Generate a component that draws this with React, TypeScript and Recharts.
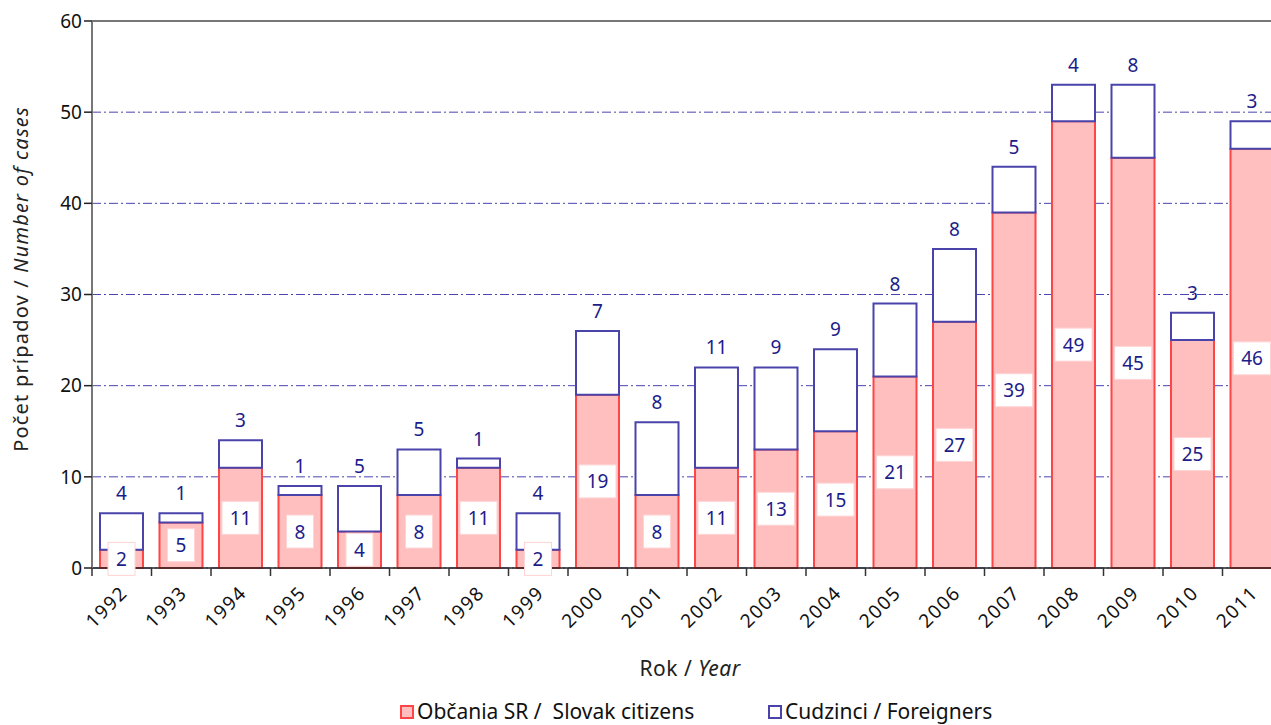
import React from 'react';
import { BarChart, Bar, XAxis, YAxis, CartesianGrid, ReferenceLine, LabelList, Label } from 'recharts';

const years = ['1992', '1993', '1994', '1995', '1996', '1997', '1998', '1999', '2000', '2001', '2002', '2003', '2004', '2005', '2006', '2007', '2008', '2009', '2010', '2011'];
const slovakCitizens = [2, 5, 11, 8, 4, 8, 11, 2, 19, 8, 11, 13, 15, 21, 27, 39, 49, 45, 25, 46];
const foreigners = [4, 1, 3, 1, 5, 5, 1, 4, 7, 8, 11, 9, 9, 8, 8, 5, 4, 8, 3, 3];
const yTicks = [0, 10, 20, 30, 40, 50, 60];

const data = years.map((year, i) => ({ year, citizens: slovakCitizens[i], foreign: foreigners[i] }));

const FONT = '"Noto Sans", "Open Sans", sans-serif';
const LABEL_BLUE = '#1c1c8a';
const PINK = '#ffbfbf';
const RED = '#ff4545';
const BLUE = '#4a44aa';
const BAND = 1190 / years.length;

// citizen value sits in a white box in the middle of the pink segment;
// drawn from the foreigners bar so the box lies on top of both segments
const CitizenLabel = (props: any) => {
    const { x, y, width, height, value, index } = props;
    const citizens = props.payload?.citizens ?? slovakCitizens[index];
    if (citizens == null || !value) return null;
    const k = height / value;
    const cx = x + width / 2;
    const cy = y + height + (citizens * k) / 2;
    const w = String(citizens).length > 1 ? 37 : 27;
    return (
        <g>
            <rect x={cx - w / 2} y={cy - 16.5} width={w} height={33} fill="#fff" stroke="#ffd4d4" strokeWidth={1} />
            <text x={cx} y={cy + 7} textAnchor="middle" fontSize={19} fill={LABEL_BLUE} fontFamily={FONT}>
                {citizens}
            </text>
        </g>
    );
};

const YearTick = (props: any) => {
    const { x, y, payload } = props;
    const lx = x + 7;
    const ly = y + 18;
    return (
        <g>
            <line x1={x - BAND / 2} y1={y - 8} x2={x - BAND / 2} y2={y} stroke="#333" strokeWidth={1.5} />
            <text x={lx} y={ly} textAnchor="end" fontSize={19} letterSpacing={1.5} fill="#111" fontFamily={FONT}
                transform={`rotate(-45, ${lx}, ${ly})`}>
                {payload.value}
            </text>
        </g>
    );
};

const App: React.FC = () => {
    return (
        <div style={{ position: 'absolute', left: 0, top: 0, width: 1271, height: 725, overflow: 'hidden', fontFamily: FONT }}>
            <BarChart width={1302} height={725} data={data} margin={{ top: 21, right: 20, left: 0, bottom: 0 }} barSize={43}>
                <CartesianGrid vertical={false} stroke="#4a44b0" strokeDasharray="9 3 2 3" strokeWidth={1} />
                <XAxis dataKey="year" height={157} interval={0} tickLine={false} axisLine={{ stroke: '#222', strokeWidth: 1.5 }} tick={<YearTick />}>
                    <Label content={() => (
                        <text x={690} y={676} textAnchor="middle" fontSize={21} letterSpacing={0.5} fill="#222" fontFamily={FONT}>
                            Rok / <tspan fontStyle="italic">Year</tspan>
                        </text>
                    )} />
                </XAxis>
                <YAxis width={92} domain={[0, 60]} ticks={yTicks} interval={0} tickSize={8}
                    tickLine={{ stroke: '#222', strokeWidth: 1.5 }} axisLine={{ stroke: '#777', strokeWidth: 2 }}
                    tick={{ fontSize: 19, fill: '#111', fontFamily: FONT }}>
                    <Label content={() => (
                        <text x={28} y={279} textAnchor="middle" fontSize={20} letterSpacing={1.2} fill="#222" fontFamily={FONT} transform="rotate(-90, 28, 279)">
                            Počet prípadov / <tspan fontStyle="italic">Number of cases</tspan>
                        </text>
                    )} />
                </YAxis>
                <ReferenceLine y={60} stroke="#777" strokeWidth={2} />
                <Bar dataKey="citizens" stackId="a" fill={PINK} stroke={RED} strokeWidth={2} isAnimationActive={false} />
                <Bar dataKey="foreign" stackId="a" fill="#fff" stroke={BLUE} strokeWidth={2} isAnimationActive={false}>
                    <LabelList dataKey="foreign" position="top" offset={13} fill={LABEL_BLUE} fontSize={19} fontFamily={FONT} />
                    <LabelList dataKey="foreign" content={<CitizenLabel />} />
                </Bar>
            </BarChart>
            <div style={{ position: 'absolute', top: 697, left: 0, width: 1271, height: 28, fontSize: 21, lineHeight: '28px', color: '#111', whiteSpace: 'pre' }}>
                <span style={{ position: 'absolute', left: 400, top: 8, width: 10, height: 10, background: PINK, border: `2px solid ${RED}` }} />
                <span style={{ position: 'absolute', left: 417, top: 0 }}>Občania SR /  Slovak citizens</span>
                <span style={{ position: 'absolute', left: 768, top: 8, width: 10, height: 10, background: '#fff', border: `2px solid ${BLUE}` }} />
                <span style={{ position: 'absolute', left: 785, top: 0 }}>Cudzinci / Foreigners</span>
            </div>
        </div>
    );
};

export default App;
